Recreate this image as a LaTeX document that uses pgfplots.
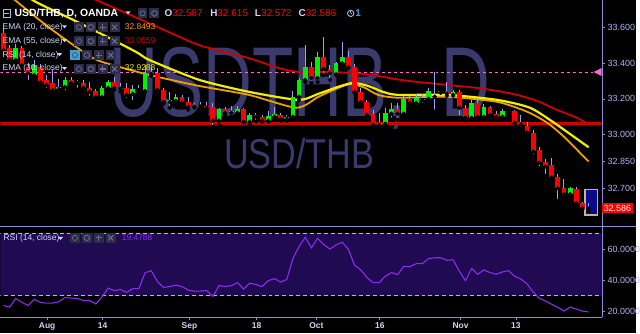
\documentclass[border=0pt]{standalone}
\usepackage{pgfplots}
\pgfplotsset{compat=1.18}
\usepackage{pgfplotstable}
\usepackage{fontspec}
\setmainfont{Liberation Sans}
\usepackage{graphicx}
\definecolor{lav}{HTML}{B4B4F0}
\definecolor{lavt}{HTML}{D4D4FA}
\definecolor{frame}{HTML}{8C8CD8}
\definecolor{wm}{HTML}{3A3A6E}
\definecolor{up}{HTML}{00F000}
\definecolor{dn}{HTML}{FF0000}
\definecolor{wick}{HTML}{A0A0F8}
\definecolor{ema20}{HTML}{F0A000}
\definecolor{ema30}{HTML}{F0F000}
\definecolor{ema55}{HTML}{D00000}
\definecolor{hline}{HTML}{CC0000}
\definecolor{pinkd}{HTML}{FF66CC}
\definecolor{band}{HTML}{200A52}
\definecolor{rsic}{HTML}{8C2CF0}
\definecolor{iconbg}{HTML}{2C2C46}
\definecolor{iconfg}{HTML}{6A6A90}
\definecolor{iconblue}{HTML}{3AA0E0}
\definecolor{boxblue}{HTML}{0A0A8C}
\definecolor{boxedge}{HTML}{C8B48C}

\pgfplotstableread{
i o h l c
0 33.567 33.594 33.444 33.472
1 33.483 33.500 33.406 33.417
2 33.417 33.506 33.406 33.483
3 33.483 33.494 33.372 33.389
4 33.378 33.400 33.294 33.344
5 33.333 33.417 33.322 33.389
6 33.378 33.394 33.283 33.294
7 33.306 33.333 33.250 33.278
8 33.289 33.361 33.239 33.250
9 33.256 33.311 33.233 33.267
10 33.267 33.322 33.239 33.306
11 33.306 33.322 33.267 33.289
12 33.294 33.306 33.250 33.289
13 33.289 33.306 33.239 33.261
14 33.261 33.294 33.206 33.239
15 33.244 33.256 33.206 33.211
16 33.211 33.272 33.206 33.261
17 33.261 33.306 33.250 33.294
18 33.294 33.322 33.250 33.261
19 33.256 33.289 33.239 33.261
20 33.261 33.289 33.194 33.222
21 33.228 33.278 33.183 33.256
22 33.256 33.278 33.239 33.250
23 33.244 33.389 33.239 33.344
24 33.350 33.372 33.328 33.339
25 33.344 33.372 33.239 33.250
26 33.250 33.261 33.172 33.183
27 33.183 33.239 33.150 33.194
28 33.189 33.228 33.178 33.211
29 33.211 33.222 33.167 33.178
30 33.183 33.211 33.139 33.156
31 33.161 33.178 33.150 33.156
32 33.156 33.183 33.144 33.161
33 33.161 33.183 33.139 33.150
34 33.156 33.178 33.044 33.078
35 33.078 33.150 33.056 33.144
36 33.144 33.156 33.111 33.122
37 33.122 33.161 33.100 33.133
38 33.122 33.161 33.111 33.144
39 33.144 33.150 33.067 33.072
40 33.072 33.122 33.056 33.111
41 33.111 33.122 33.072 33.100
42 33.100 33.111 33.072 33.078
43 33.078 33.133 33.072 33.106
44 33.100 33.156 33.094 33.117
45 33.111 33.122 33.078 33.089
46 33.089 33.111 33.078 33.100
47 33.100 33.244 33.094 33.211
48 33.211 33.317 33.194 33.306
49 33.306 33.500 33.294 33.378
50 33.378 33.406 33.289 33.317
51 33.317 33.461 33.294 33.433
52 33.433 33.544 33.333 33.367
53 33.367 33.389 33.306 33.344
54 33.339 33.406 33.333 33.400
55 33.400 33.517 33.394 33.433
56 33.433 33.467 33.372 33.378
57 33.378 33.394 33.233 33.239
58 33.239 33.261 33.167 33.183
59 33.183 33.194 33.100 33.111
60 33.117 33.139 33.050 33.056
61 33.056 33.122 33.050 33.067
62 33.061 33.150 33.056 33.122
63 33.117 33.178 33.083 33.144
64 33.144 33.178 33.083 33.117
65 33.117 33.217 33.111 33.200
66 33.200 33.217 33.172 33.178
67 33.178 33.228 33.156 33.206
68 33.194 33.228 33.167 33.200
69 33.200 33.261 33.183 33.244
70 33.217 33.350 33.128 33.211
71 33.239 33.250 33.233 33.244
72 33.244 33.294 33.217 33.228
73 33.222 33.250 33.217 33.239
74 33.239 33.250 33.094 33.150
75 33.150 33.167 33.078 33.094
76 33.094 33.194 33.089 33.178
77 33.178 33.200 33.094 33.100
78 33.100 33.172 33.094 33.156
79 33.156 33.161 33.106 33.111
80 33.117 33.133 33.094 33.100
81 33.100 33.144 33.089 33.133
82 33.128 33.139 33.122 33.133
83 33.133 33.139 33.061 33.067
84 33.072 33.111 33.056 33.056
85 33.050 33.072 33.011 33.011
86 33.011 33.028 32.878 32.906
87 32.911 32.928 32.811 32.844
88 32.844 32.861 32.767 32.822
89 32.828 32.867 32.756 32.761
90 32.761 32.778 32.628 32.700
91 32.700 32.750 32.656 32.667
92 32.667 32.706 32.650 32.700
93 32.694 32.706 32.600 32.617
94 32.617 32.622 32.583 32.589
95 32.587 32.615 32.572 32.586
}\candles

\pgfplotstableread{
i p
0 33.806
1.94 33.750
7.58 33.594
14.52 33.428
18.87 33.378
23.71 33.333
31.77 33.272
39.84 33.222
47.58 33.150
51.13 33.211
54.35 33.261
56.45 33.283
58.71 33.261
60.81 33.222
64.03 33.206
72.1 33.211
80.16 33.183
85.0 33.128
88.23 33.067
90.97 32.989
95 32.849
}\emaA

\pgfplotstableread{
i p
0 33.872
4.84 33.750
10.8 33.650
15.65 33.567
21.6 33.461
23.7 33.417
31.77 33.306
39.84 33.239
47.9 33.194
51.13 33.228
54.35 33.267
56.77 33.289
59.19 33.272
61.61 33.239
64.03 33.222
72.1 33.222
80.16 33.194
85.48 33.150
89.35 33.067
95 32.929
}\emaB

\pgfplotstableread{
i p
0 33.983
7.6 33.861
15.2 33.750
23.7 33.622
31.8 33.500
39.8 33.428
44.7 33.372
47.9 33.350
52.7 33.350
57.6 33.342
60.8 33.328
64.0 33.308
67.3 33.294
70.5 33.283
73.7 33.272
76.9 33.261
80.2 33.244
83.4 33.222
86.6 33.189
89.8 33.139
93.1 33.094
95 33.056
}\emaC

\pgfplotstableread{
i r
0 23.6
1 22.6
2 28.1
3 25.7
4 23.6
5 27.5
6 25.6
7 25.1
8 25.2
9 26.0
10 28.8
11 28.4
12 28.1
13 26.8
14 26.8
15 24.6
16 29.1
17 34.8
18 33.2
19 33.9
20 32.0
21 34.5
22 34.5
23 44.7
24 46.0
25 39.0
26 35.2
27 35.8
28 36.7
29 35.8
30 33.5
31 32.8
32 32.9
33 33.2
34 29.4
35 36.4
36 35.8
37 36.4
38 38.3
39 34.2
40 38.0
41 37.1
42 35.8
43 39.6
44 40.9
45 38.7
46 40.3
47 53.9
48 61.6
49 67.5
50 60.7
51 66.8
52 62.8
53 59.9
54 62.6
55 64.3
56 59.8
57 49.5
58 46.6
59 41.7
60 38.3
61 38.3
62 42.4
63 44.8
64 43.5
65 48.8
66 48.6
67 50.5
68 50.5
69 53.7
70 54.3
71 54.3
72 52.7
73 53.0
74 45.8
75 39.6
76 47.5
77 43.7
78 46.5
79 44.8
80 43.7
81 45.2
82 46.0
83 42.4
84 40.6
85 37.5
86 32.3
87 28.2
88 26.5
89 24.4
90 22.4
91 20.1
92 22.6
93 21.3
94 20.0
95 19.4788
}\rsitab

\newcommand{\icons}[3]{% x of first box, y bottom, first highlighted (1/0)
  \foreach \k in {0,1,2,3}{
    \pgfmathsetmacro{\xx}{#1+12*\k}
    \ifnum\k=0 \ifnum#3=1
      \fill[iconblue] (\xx pt,#2 pt) rectangle ++(10pt,10pt);
      \draw[black!70, line width=0.7pt] (\xx pt+5pt,#2 pt+5pt) circle (2.6pt);
    \else
      \fill[iconbg] (\xx pt,#2 pt) rectangle ++(10pt,10pt);
      \draw[iconfg, line width=0.7pt] (\xx pt+5pt,#2 pt+5pt) circle (2.6pt);
    \fi\fi
    \ifnum\k=1
      \fill[iconbg] (\xx pt,#2 pt) rectangle ++(10pt,10pt);
      \draw[iconfg, line width=1.2pt, dash pattern=on 1pt off 0.6pt] (\xx pt+5pt,#2 pt+5pt) circle (2.8pt);
    \fi
    \ifnum\k=2
      \fill[iconbg] (\xx pt,#2 pt) rectangle ++(10pt,10pt);
      \draw[iconfg, line width=1.1pt] (\xx pt+2pt,#2 pt+5pt) -- ++(6pt,0) (\xx pt+5pt,#2 pt+2pt) -- ++(0,6pt);
    \fi
    \ifnum\k=3
      \fill[iconbg] (\xx pt,#2 pt) rectangle ++(10pt,10pt);
      \draw[iconfg, line width=1.1pt] (\xx pt+2.5pt,#2 pt+2.5pt) -- ++(5pt,5pt) (\xx pt+2.5pt,#2 pt+7.5pt) -- ++(5pt,-5pt);
    \fi
  }
}
\newcommand{\caret}[2]{\fill[lavt] (#1pt,#2pt) -- ++(5pt,0) -- ++(-2.5pt,-3pt) -- cycle;}

\begin{document}
\begin{tikzpicture}
\fill[black] (0,0) rectangle (640pt,335pt);
% watermarks
\node[anchor=base west, inner sep=0, text=wm] at (110pt,218pt)
  {\scalebox{0.68}[1]{\fontsize{100}{100}\selectfont USDTHB,\hspace{0.52em}D}};
\node[anchor=base west, inner sep=0, text=wm] at (225pt,166pt)
  {\scalebox{0.82}[1]{\fontsize{42}{42}\selectfont USD/THB}};

\begin{axis}[at={(0pt,109pt)}, anchor=south west, scale only axis,
  width=605pt, height=226pt,
  xmin=-0.4839, xmax=97.097, ymin=32.4944, ymax=33.75,
  axis line style={draw=none}, xtick=\empty,
  ytick={32.7,32.85,33,33.2,33.4,33.6},
  yticklabels={32.700,32.850,33.000,33.200,33.400,33.600},
  ytick pos=right, yticklabel pos=right, tick align=outside,
  major tick length=3pt, tick style={frame, line width=0.6pt},
  yticklabel style={font=\fontsize{9}{10}\selectfont, text=lav, inner sep=0pt, xshift=3pt}]
\draw[pinkd, line width=0.8pt, dash pattern=on 3pt off 3pt] (axis cs:-0.5,33.35) -- (axis cs:95.8,33.35);
\draw[hline, line width=2.4pt] (axis cs:-0.5,33.061) -- (axis cs:98,33.061);
\addplot[ema55, line width=1.8pt, smooth, tension=0.4] table[x=i,y=p] {\emaC};
\addplot[ema20, line width=1.8pt, smooth, tension=0.4] table[x=i,y=p] {\emaA};
\addplot[ema30, line width=2.2pt, smooth, tension=0.4] table[x=i,y=p] {\emaB};
\filldraw[fill=boxblue, draw=boxedge, line width=1.2pt] (axis cs:94.4,32.55) rectangle (axis cs:96.5,32.694);
% wicks
\addplot[only marks, mark=none, error bars/.cd, y dir=plus, y explicit, error mark=none,
  error bar style={line width=1pt, wick}]
  table[x=i, y=l, y error expr=\thisrow{h}-\thisrow{l}] {\candles};
% green bodies
\addplot[only marks, mark=none, restrict expr to domain={\thisrow{c}-\thisrow{o}}{0:1},
  error bars/.cd, y dir=plus, y explicit, error mark=none,
  error bar style={line width=4.8pt, up}]
  table[x=i, y expr={min(\thisrow{o},\thisrow{c})}, y error expr={max(abs(\thisrow{c}-\thisrow{o}),0.004)}] {\candles};
% red bodies
\addplot[only marks, mark=none, restrict expr to domain={\thisrow{c}-\thisrow{o}}{-1:-0.0001},
  error bars/.cd, y dir=plus, y explicit, error mark=none,
  error bar style={line width=4.8pt, dn}]
  table[x=i, y expr={min(\thisrow{o},\thisrow{c})}, y error expr={max(abs(\thisrow{c}-\thisrow{o}),0.004)}] {\candles};
\end{axis}

\begin{axis}[at={(0pt,16pt)}, anchor=south west, scale only axis,
  width=605pt, height=91pt,
  xmin=-0.4839, xmax=97.097, ymin=15.97, ymax=74.12,
  axis line style={draw=none},
  xtick={7.1,16.1,30.2,41.1,50.8,61.1,74.2,83.2},
  xticklabels={Aug,14,Sep,18,Oct,16,Nov,13},
  xtick pos=bottom, xticklabel pos=bottom,
  ytick={20,40,60}, yticklabels={20.0000,40.0000,60.0000},
  ytick pos=right, yticklabel pos=right, tick align=outside,
  major tick length=3pt, tick style={frame, line width=0.6pt},
  yticklabel style={font=\fontsize{9}{10}\selectfont, text=lav, inner sep=0pt, xshift=3pt},
  xticklabel style={font=\fontsize{8.5}{10}\selectfont\bfseries, text=lavt, inner sep=0pt, yshift=-2pt}]
\fill[band] (axis cs:-1,30) rectangle (axis cs:98,70);
\draw[lav, line width=0.8pt, dash pattern=on 4pt off 3pt] (axis cs:-1,30) -- (axis cs:98,30);
\draw[lav, line width=0.8pt, dash pattern=on 4pt off 3pt] (axis cs:-1,70) -- (axis cs:98,70);
\addplot[rsic, line width=1.1pt] table[x=i,y=r] {\rsitab};
\end{axis}

% frame lines
\draw[frame, line width=0.9pt] (0,108pt) -- (640pt,108pt);
\draw[frame, line width=0.9pt] (0,16pt) -- (605.5pt,16pt);
\draw[frame, line width=0.9pt] (605.5pt,16pt) -- (605.5pt,335pt);
% pink marker
\fill[pinkd] (597pt,263pt) -- (605pt,267pt) -- (605pt,259pt) -- cycle;
% price label
\fill[dn] (605.5pt,121pt) rectangle (637pt,131pt);
\node[text=white, font=\fontsize{9}{10}\selectfont, inner sep=0] at (621pt,126pt) {32.586};

% header
\draw[lav, line width=0.8pt] (2.5pt,318pt) rectangle (10.5pt,326pt);
\draw[lav, line width=0.8pt] (4pt,322pt) -- (9pt,322pt);
\node[anchor=base west, inner sep=0, text=white, font=\fontsize{10.5}{12}\selectfont\bfseries] at (14pt,318.5pt) {USD/THB, D, OANDA};
\caret{126}{324}
\fill[iconbg] (138pt,317pt) rectangle ++(10pt,10pt);
\draw[iconfg, line width=0.7pt] (143pt,322pt) circle (2.6pt);
\fill[iconbg] (150pt,317pt) rectangle ++(10pt,10pt);
\draw[iconfg, line width=1.2pt, dash pattern=on 1pt off 0.6pt] (155pt,322pt) circle (2.8pt);
\node[anchor=base west, inner sep=0, font=\fontsize{10}{12}\selectfont] at (165pt,318.5pt) {\textcolor{lavt}{\bfseries O}\textcolor{dn}{32.587}};
\node[anchor=base west, inner sep=0, font=\fontsize{10}{12}\selectfont] at (211pt,318.5pt) {\textcolor{lavt}{\bfseries H}\textcolor{dn}{32.615}};
\node[anchor=base west, inner sep=0, font=\fontsize{10}{12}\selectfont] at (256pt,318.5pt) {\textcolor{lavt}{\bfseries L}\textcolor{dn}{32.572}};
\node[anchor=base west, inner sep=0, font=\fontsize{10}{12}\selectfont] at (300pt,318.5pt) {\textcolor{lavt}{\bfseries C}\textcolor{dn}{32.586}};
\draw[lav, line width=0.9pt] (352.5pt,322pt) circle (3.2pt);
\draw[lav, line width=0.7pt] (352.5pt,322pt) -- ++(0,2pt) (352.5pt,322pt) -- ++(1.5pt,0);
\node[anchor=base west, inner sep=0, text=iconblue, font=\fontsize{10}{12}\selectfont\bfseries] at (357pt,318.5pt) {1};

% legend rows
\node[anchor=base west, inner sep=0, text=lavt, font=\fontsize{8.5}{10}\selectfont] at (2pt,306pt) {EMA (20, close)};
\caret{62}{310}
\icons{74}{303}{0}
\node[anchor=base west, inner sep=0, text=ema20, font=\fontsize{8.5}{10}\selectfont] at (125pt,306pt) {32.8493};

\node[anchor=base west, inner sep=0, text=lavt, font=\fontsize{8.5}{10}\selectfont] at (2pt,292pt) {EMA (55, close)};
\caret{62}{296}
\icons{74}{289}{0}
\node[anchor=base west, inner sep=0, text=ema55, font=\fontsize{8.5}{10}\selectfont] at (125pt,292pt) {33.0559};

\node[anchor=base west, inner sep=0, text=lavt, font=\fontsize{8.5}{10}\selectfont] at (2pt,278pt) {RSI (14, close)};
\caret{57}{282}
\icons{70}{275}{1}

\node[anchor=base west, inner sep=0, text=lavt, font=\fontsize{8.5}{10}\selectfont] at (2pt,264pt) {EMA (30, close)};
\caret{62}{268}
\icons{74}{261}{0}
\node[anchor=base west, inner sep=0, text=ema30, font=\fontsize{8.5}{10}\selectfont] at (125pt,264pt) {32.9288};

% RSI legend
\node[anchor=base west, inner sep=0, text=lavt, font=\fontsize{8.5}{10}\selectfont] at (3pt,93pt) {RSI (14, close)};
\caret{58}{97}
\icons{70}{91}{0}
\node[anchor=base west, inner sep=0, text=rsic, font=\fontsize{8.5}{10}\selectfont] at (122pt,93pt) {19.4788};
\end{tikzpicture}
\end{document}
